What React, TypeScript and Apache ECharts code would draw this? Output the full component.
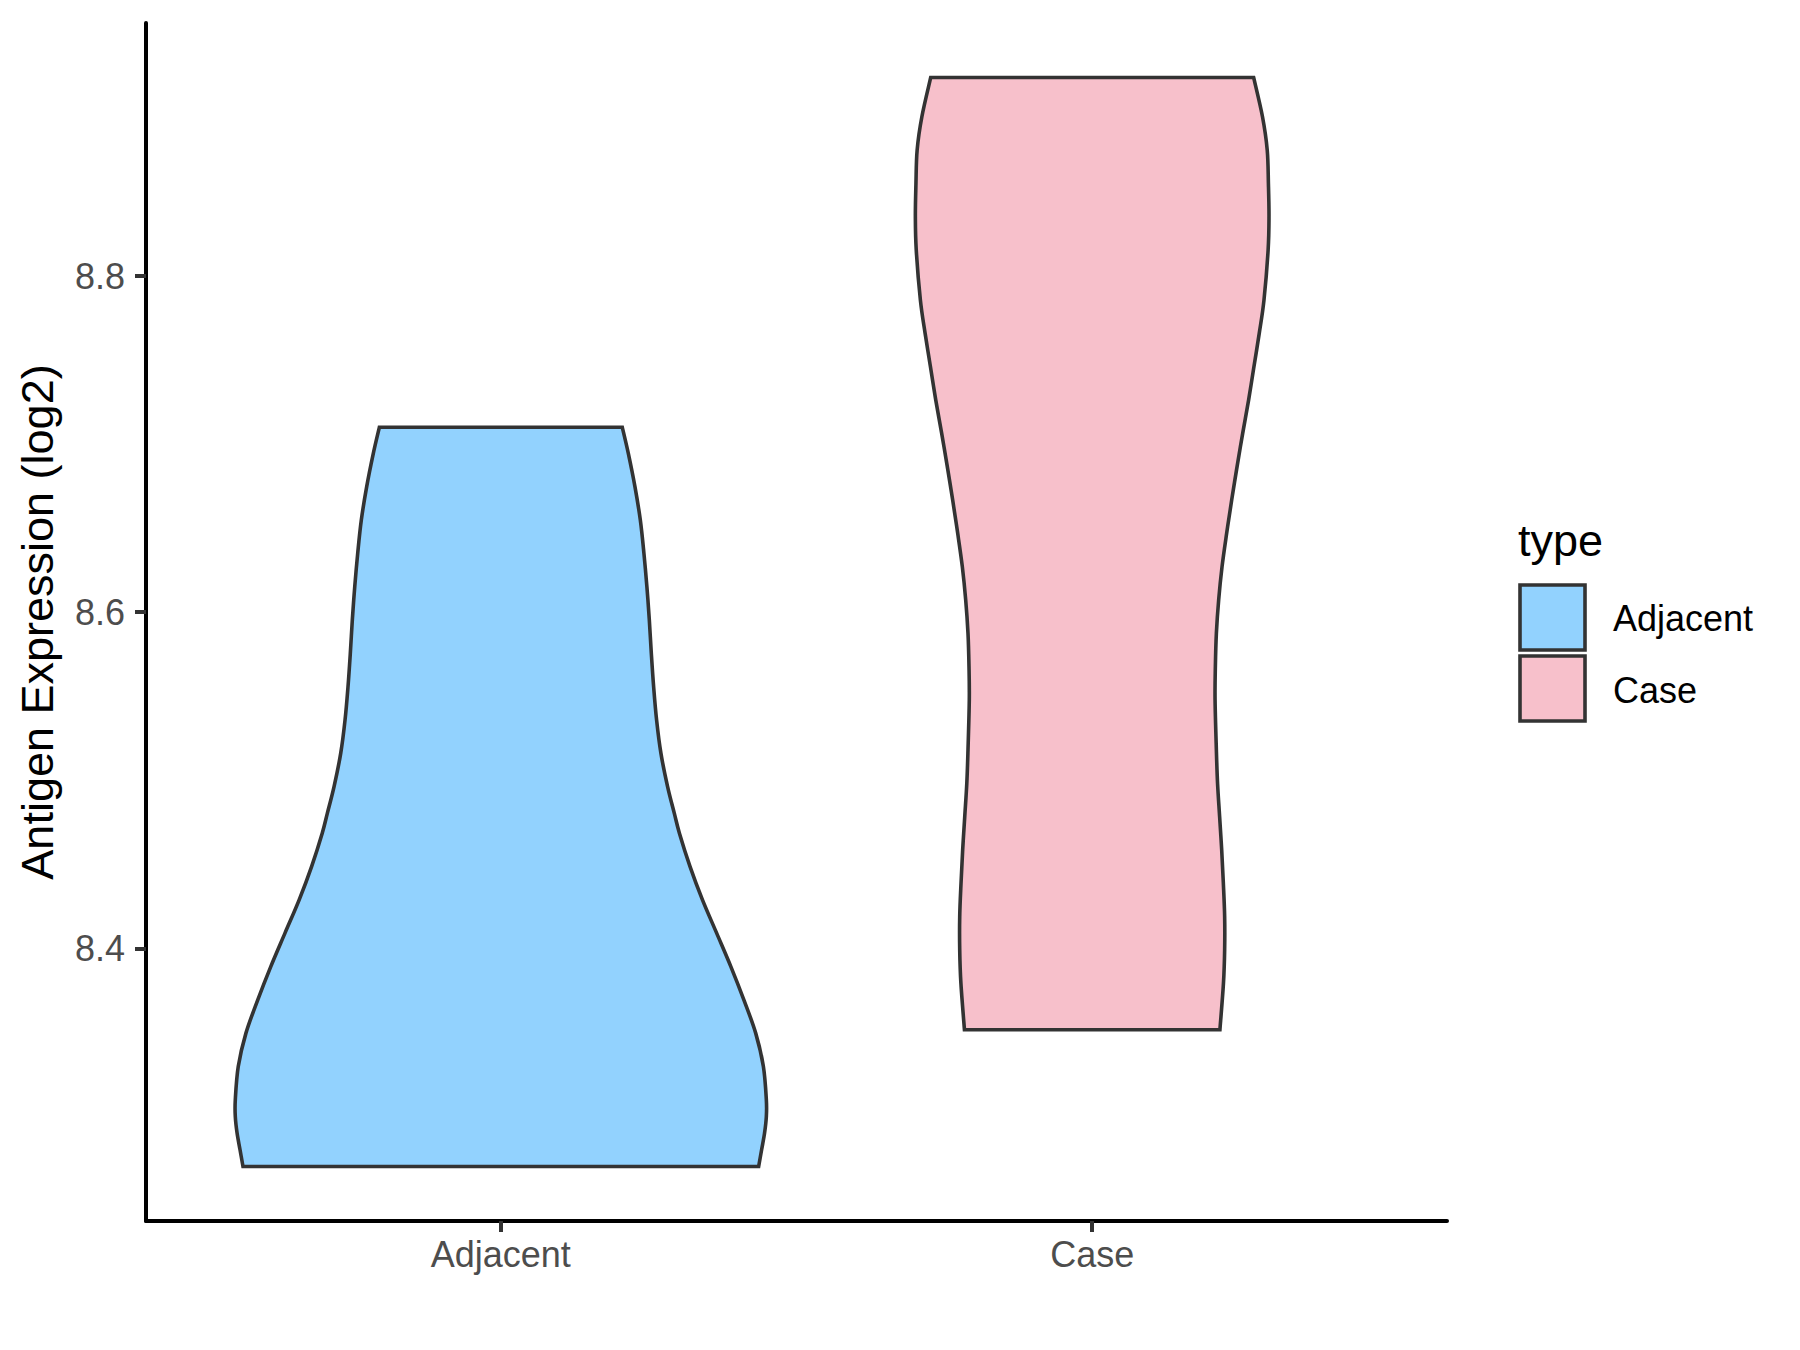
import React, { useEffect, useRef } from "react";
import * as echarts from "echarts";

const categories = ["Adjacent", "Case"];
const yTicks = [8.4, 8.6, 8.8];
const yMin = 8.2377;
const yMax = 8.9506;

// Violin outlines: expression value and half-width (in category units)
const adjacentValues = [8.71, 8.6945, 8.6747, 8.6548, 8.635, 8.6152, 8.5954, 8.5755, 8.5557, 8.5359, 8.5161, 8.4962, 8.4803, 8.4685, 8.4486, 8.4288, 8.409, 8.3891, 8.3693, 8.3495, 8.3296, 8.3098, 8.2999, 8.29, 8.2801, 8.2701];
const adjacentHalfWidths = [0.2054, 0.2156, 0.2268, 0.2359, 0.242, 0.247, 0.2511, 0.2545, 0.2584, 0.2634, 0.2707, 0.282, 0.2934, 0.302, 0.32, 0.341, 0.365, 0.389, 0.411, 0.431, 0.444, 0.449, 0.449, 0.446, 0.441, 0.436];

const caseValues = [8.9182, 8.8948, 8.875, 8.8551, 8.8353, 8.8155, 8.7857, 8.7659, 8.746, 8.7262, 8.7064, 8.6866, 8.6667, 8.6469, 8.6271, 8.6073, 8.5874, 8.5676, 8.5478, 8.518, 8.4982, 8.4783, 8.4585, 8.4387, 8.4189, 8.399, 8.3792, 8.3515];
const caseHalfWidths = [0.273, 0.288, 0.296, 0.298, 0.299, 0.2975, 0.2905, 0.2825, 0.2735, 0.2645, 0.2545, 0.245, 0.2359, 0.2274, 0.2196, 0.2139, 0.21, 0.2083, 0.2078, 0.21, 0.212, 0.2155, 0.219, 0.2218, 0.224, 0.224, 0.222, 0.216];

const colors = ["#92d2fe", "#f7c0cb"];
const FONT = "'Liberation Sans', Arial, Helvetica, sans-serif";

function curveThrough(ctx: any, pts: number[][]) {
  const n = pts.length;
  for (let i = 0; i < n - 1; i++) {
    const p0 = pts[i > 0 ? i - 1 : i];
    const p1 = pts[i];
    const p2 = pts[i + 1];
    const p3 = pts[i + 2 < n ? i + 2 : i + 1];
    const c1x = p1[0] + (p2[0] - p0[0]) / 6;
    const c1y = p1[1] + (p2[1] - p0[1]) / 6;
    const c2x = p2[0] - (p3[0] - p1[0]) / 6;
    const c2y = p2[1] - (p3[1] - p1[1]) / 6;
    ctx.bezierCurveTo(c1x, c1y, c2x, c2y, p2[0], p2[1]);
  }
}

const ViolinShape = echarts.graphic.extendShape({
  type: "violinOutline",
  shape: { left: [], right: [] },
  buildPath(ctx: any, shape: any) {
    const left: number[][] = shape.left;
    const right: number[][] = shape.right;
    if (!left || left.length < 2) return;
    ctx.moveTo(left[0][0], left[0][1]);
    curveThrough(ctx, left);
    const rr = right.slice().reverse();
    ctx.lineTo(rr[0][0], rr[0][1]);
    curveThrough(ctx, rr);
    ctx.closePath();
  },
});
echarts.graphic.registerShape("violinOutline", ViolinShape);

function makeRender(values: number[], halfWidths: number[], fill: string) {
  return (params: any, api: any) => {
    const pos = api.value(0);
    const left = values.map((v, i) => api.coord([pos - halfWidths[i], v]));
    const right = values.map((v, i) => api.coord([pos + halfWidths[i], v]));
    return {
      type: "violinOutline",
      shape: { left, right },
      style: { fill, stroke: "#333333", lineWidth: 3.6, lineJoin: "miter" },
    };
  };
}

export default function App() {
  const ref = useRef<HTMLDivElement>(null);
  useEffect(() => {
    if (!ref.current) return;
    const chart = echarts.init(ref.current, undefined, { renderer: "svg" });
    const option: any = {
      animation: false,
      backgroundColor: "#ffffff",
      grid: { left: 146, right: 353, top: 23, bottom: 129, containLabel: false },
      xAxis: {
        type: "value",
        min: 0.4,
        max: 2.6,
        splitLine: { show: false },
        axisLine: { show: true, onZero: false, lineStyle: { color: "#000000", width: 4 } },
        axisTick: { show: true, customValues: [1, 2], length: 11, lineStyle: { color: "#333333", width: 4 } },
        axisLabel: {
          customValues: [1, 2],
          formatter: (v: number) => categories[Math.round(v) - 1] || "",
          color: "#4d4d4d",
          fontSize: 36,
          fontFamily: FONT,
          margin: 15,
        },
      },
      yAxis: {
        type: "value",
        min: yMin,
        max: yMax,
        name: "Antigen Expression (log2)",
        nameLocation: "middle",
        nameGap: 86,
        nameRotate: 90,
        nameTextStyle: { color: "#000000", fontSize: 45, fontFamily: FONT },
        splitLine: { show: false },
        axisLine: { show: true, onZero: false, lineStyle: { color: "#000000", width: 4 } },
        axisTick: { show: true, customValues: yTicks, length: 11, lineStyle: { color: "#333333", width: 4 } },
        axisLabel: {
          customValues: yTicks,
          formatter: (v: number) => v.toFixed(1),
          color: "#4d4d4d",
          fontSize: 36,
          fontFamily: FONT,
          margin: 21,
        },
      },
      series: [
        {
          type: "custom",
          name: categories[0],
          renderItem: makeRender(adjacentValues, adjacentHalfWidths, colors[0]),
          data: [[1]],
          encode: { x: 0 },
          clip: false,
        },
        {
          type: "custom",
          name: categories[1],
          renderItem: makeRender(caseValues, caseHalfWidths, colors[1]),
          data: [[2]],
          encode: { x: 0 },
          clip: false,
        },
      ],
      graphic: [
        { type: "text", left: 1518, top: 518, style: { text: "type", fontSize: 45, fontFamily: FONT, fill: "#000000" } },
        { type: "rect", shape: { x: 1520, y: 585, width: 65, height: 65 }, style: { fill: colors[0], stroke: "#333333", lineWidth: 3.6 } },
        { type: "rect", shape: { x: 1520, y: 656, width: 65, height: 65 }, style: { fill: colors[1], stroke: "#333333", lineWidth: 3.6 } },
        { type: "text", x: 1613, y: 618, style: { text: categories[0], fontSize: 36, fontFamily: FONT, fill: "#000000", verticalAlign: "middle" } },
        { type: "text", x: 1613, y: 690, style: { text: categories[1], fontSize: 36, fontFamily: FONT, fill: "#000000", verticalAlign: "middle" } },
      ],
    };
    chart.setOption(option);
    return () => chart.dispose();
  }, []);
  return <div ref={ref} style={{ position: "absolute", left: 0, top: 0, width: 1800, height: 1350 }} />;
}
